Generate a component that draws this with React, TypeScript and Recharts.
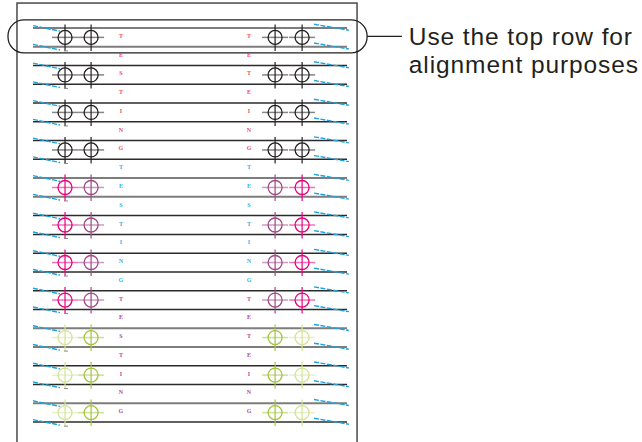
import React from 'react';
import { ComposedChart, XAxis, YAxis, Scatter, ReferenceLine, ReferenceArea, ReferenceDot } from 'recharts';

// ---- data ----
// rule-line indices (22 printed rules) and their ink tone
const ruleIndex = [0, 1, 2, 3, 4, 5, 6, 7, 8, 9, 10, 11, 12, 13, 14, 15, 16, 17, 18, 19, 20, 21];
const ruleTone = ['grey', 'grey', 'dark', 'dark', 'dark', 'dark', 'dark', 'dark', 'grey', 'grey', 'dark', 'dark', 'dark', 'dark', 'dark', 'dark', 'grey', 'grey', 'dark', 'dark', 'grey', 'dark'];

// target rows (11 rows of 4 crosshair targets) and their ink
const targetRows = [0, 1, 2, 3, 4, 5, 6, 7, 8, 9, 10];
const targetRowInk = ['black', 'black', 'black', 'black', 'magenta', 'magenta', 'magenta', 'magenta', 'green', 'green', 'green'];
// target column positions (page units, 0-100 across the rules)
const targetColumns = [10.2, 18.5, 77.1, 85.7];

// test letter columns
const leftLetters = 'TESTINGTESTINGTESTING'.split('');
const rightLetters = 'TETEINGTESTINGTETEING'.split('');
const letterColumns = [28.0, 68.8];

// annotation
const calloutLines = ['Use the top row for', 'alignment purposes'];

// ---- styles ----
const INK: Record<string, string[]> = {
  black: ['#231f20', '#231f20', '#231f20', '#231f20'],
  magenta: ['#e5007d', '#a24886', '#a24886', '#e5007d'],
  green: ['#d3e397', '#a3c43e', '#a3c43e', '#d3e397'],
};
const LETTER_COLORS = ['#ee4a5c', '#2db4e8', '#b0479b'];
const RULE_STYLE: Record<string, { stroke: string; width: number }> = {
  grey: { stroke: '#7d7d7d', width: 2 },
  dark: { stroke: '#2b2b2b', width: 1.5 },
};
const CYAN = '#1aa3de';

// ---- derived tables ----
const targets = targetRows.flatMap((r) =>
  targetColumns.map((x, c) => ({ x, y: 2 * r + 0.5, col: c, color: INK[targetRowInk[r]][c] }))
);
const letters = [
  ...leftLetters.map((ch, j) => ({ x: letterColumns[0], y: j + 0.5, ch, color: LETTER_COLORS[Math.floor(j / 7)] })),
  ...rightLetters.map((ch, j) => ({ x: letterColumns[1], y: j + 0.5, ch, color: LETTER_COLORS[Math.floor(j / 7)] })),
];

const Target = (props: any) => {
  const { cx, cy, payload } = props;
  const color = payload.color;
  return (
    <g>
      <line x1={cx - 13} x2={cx + 13} y1={cy} y2={cy} stroke={color} strokeOpacity={0.55} strokeWidth={1.5} />
      <line x1={cx} x2={cx} y1={cy - 13} y2={cy + 13.5} stroke={color} strokeWidth={1.2} />
      <circle cx={cx} cy={cy} r={7} fill="none" stroke={color} strokeWidth={1.3} />
      {payload.col === 0 && (
        <line x1={cx - 1} x2={cx + 3} y1={cy + 13.5} y2={cy + 13.5} stroke="#888" strokeWidth={1} />
      )}
    </g>
  );
};

const Letter = (props: any) => {
  const { cx, cy, payload } = props;
  return (
    <text x={cx} y={cy + 0.5} textAnchor="middle" fontSize={6} fontWeight="bold" fontFamily="'Liberation Serif', serif" fill={payload.color}>
      {payload.ch}
    </text>
  );
};

const CALLOUT_FONT = { fontSize: 24.5, letterSpacing: 0.9, fontFamily: "'Liberation Sans', Arial, sans-serif", fill: '#231f20' };

const Callout = (props: any) => {
  const { cx, cy } = props;
  return (
    <g>
      <text x={cx} y={cy} {...CALLOUT_FONT}>
        {calloutLines[0]}
      </text>
      <text x={cx} y={cy + 28} {...CALLOUT_FONT}>
        {calloutLines[1]}
      </text>
    </g>
  );
};

const Stadium = (props: any) => {
  const { x, y, width, height } = props;
  return <rect x={x} y={y} width={width} height={height} rx={16} ry={16} fill="none" stroke="#231f20" strokeWidth={1.3} />;
};

const PageFrame = (props: any) => {
  const { x, y, width, height } = props;
  return <rect x={x} y={y} width={width} height={height} fill="none" stroke="#4a4a4a" strokeWidth={1.5} />;
};

export default function App() {
  return (
    <div style={{ position: 'absolute', left: 0, top: 0, width: 642, height: 442, background: '#fff' }}>
      <ComposedChart width={642} height={442} margin={{ top: 28, right: 295, bottom: 20, left: 33 }}>
        <XAxis type="number" dataKey="x" domain={[0, 100]} hide />
        <YAxis type="number" dataKey="y" domain={[0, 21]} tickCount={8} reversed hide />

        <ReferenceArea x1={-5.1} x2={103.2} y1={-1.33} y2={23} ifOverflow="visible" shape={PageFrame} />

        {ruleIndex.map((k) => (
          <ReferenceLine
            key={'rule' + k}
            y={k}
            stroke={RULE_STYLE[ruleTone[k]].stroke}
            strokeWidth={RULE_STYLE[ruleTone[k]].width}
            ifOverflow="visible"
          />
        ))}

        {ruleIndex.map((k) => (
          <ReferenceLine
            key={'cl' + k}
            segment={[{ x: 0, y: k - 0.13 }, { x: 8.6, y: k + 0.17 }]}
            stroke={CYAN}
            strokeWidth={1.4}
            strokeDasharray="5 1.5"
            ifOverflow="visible"
          />
        ))}
        {ruleIndex.map((k) => (
          <ReferenceLine
            key={'cr' + k}
            segment={[{ x: 89.5, y: k - 0.2 }, { x: 100.6, y: k + 0.12 }]}
            stroke={CYAN}
            strokeWidth={1.4}
            strokeDasharray="5 1.5"
            ifOverflow="visible"
          />
        ))}

        <Scatter data={targets} shape={Target} isAnimationActive={false} />
        <Scatter data={letters} shape={Letter} isAnimationActive={false} />

        <ReferenceArea x1={-7.96} x2={106.4} y1={-0.43} y2={1.33} ifOverflow="visible" shape={Stadium} />
        <ReferenceLine
          segment={[{ x: 106.4, y: 0.45 }, { x: 117.5, y: 0.45 }]}
          stroke="#231f20"
          strokeWidth={1.3}
          ifOverflow="visible"
        />
        <ReferenceDot x={119.7} y={0.93} r={0} ifOverflow="visible" shape={Callout} />
      </ComposedChart>
    </div>
  );
}
